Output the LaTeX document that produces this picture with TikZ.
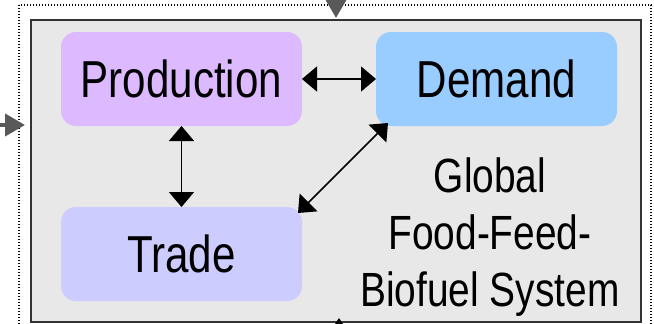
\documentclass[tikz,border=0pt]{standalone}
\usepackage{fontspec}
\setmainfont{Liberation Sans}[FakeStretch=0.81]
\usetikzlibrary{arrows.meta}
\definecolor{prodcol}{RGB}{221,185,255}
\definecolor{demcol}{RGB}{153,204,255}
\definecolor{tradecol}{RGB}{204,204,255}
\definecolor{sysgrey}{RGB}{232,232,232}
\definecolor{portgrey}{RGB}{89,89,89}
\tikzset{
  big text/.style = {font=\fontsize{52}{56.5}\selectfont},
  label text/.style = {font=\fontsize{48}{57}\selectfont},
  port arrow/.style = {draw=portgrey, line width=4pt, -{Triangle[length=20pt,width=22pt]}}
}
\begin{document}
\begin{tikzpicture}[x=1pt, y=-1pt]
\useasboundingbox (0,0) rectangle (654,324);
\clip (0,0) rectangle (654,324);
\draw[line width=1.2pt, dash pattern=on 1.4pt off 1.6pt] (19,5) rectangle (651,345);
\node[draw=black!80, line width=1.5pt, fill=sysgrey, minimum width=610pt, minimum height=302pt, inner sep=0pt, outer sep=0pt] (System) at (336,171) {};
\begin{scope}[every node/.style = {big text, rounded corners=15pt, minimum width=241pt, minimum height=94pt, inner sep=0pt, outer sep=0pt}]
\node[fill=prodcol] (Production) at (181.5,79) {Production};
\node[fill=demcol] (Demand) at (496.5,79) {Demand};
\node[fill=tradecol] (Trade) at (181.5,254) {Trade};
\end{scope}
\node[label text, align=center, inner sep=0pt] (Label) at (490,237.5) {Global\\Food-Feed-\\Biofuel System};
\begin{scope}[every edge/.style = {draw, line width=1.5pt, {Triangle[length=15pt,width=25pt]}-{Triangle[length=15pt,width=25pt]}}]
\path (Production) edge (Demand);
\path (Production) edge (Trade);
\path ([xshift=-4pt,yshift=-6pt]Trade.north east) edge ([xshift=12pt,yshift=3pt]Demand.south west);
\end{scope}
% connectors coming from outside
\coordinate (TopIn) at (336,-30);
\coordinate (LeftIn) at (-30,125);
\coordinate (BotIn) at (339,350);
\path[port arrow] (TopIn) -- ([yshift=2pt]System.north);
\path[port arrow] (LeftIn) -- ([xshift=-6pt,yshift=46pt]System.west);
\draw[line width=1pt, -{Triangle[length=7pt,width=9pt]}] (BotIn) -- ([xshift=3pt,yshift=4pt]System.south);
\end{tikzpicture}
\end{document}
